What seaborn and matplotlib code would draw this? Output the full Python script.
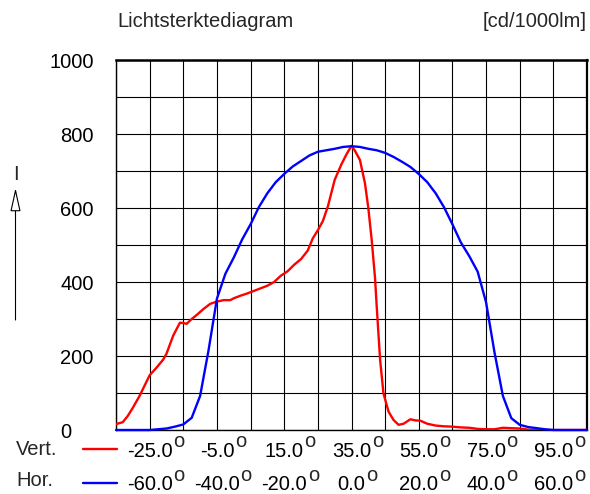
import matplotlib
matplotlib.use("Agg")
import matplotlib.pyplot as plt
import seaborn as sns
from matplotlib.lines import Line2D
from matplotlib.transforms import ScaledTranslation, IdentityTransform

# Horizontal plane (C0-C180), angle in degrees -> cd/1000lm
hor_angle = [-70, -67.5, -65, -62.5, -60, -57.5, -55, -52.5, -50, -47.5,
             -45, -42.5, -40, -37.5, -35, -32.5, -30, -27.5, -25, -22.5,
             -20, -17.5, -15, -12.5, -10, -7.5, -5, -2.5, 0, 2.5,
             5, 7.5, 10, 12.5, 15, 17.5, 20, 22.5, 25, 27.5,
             30, 32.5, 35, 37.5, 40, 42.5, 45, 47.5, 50, 52.5,
             55, 57.5, 60, 62.5, 65, 67.5, 70]
hor_value = [0, 0, 0, 0, 0, 2, 4, 9, 15, 33,
             92, 215, 355, 422, 466, 515, 556, 603, 640, 670,
             692, 712, 727, 742, 752, 756, 760, 765, 767, 765,
             760, 756, 749, 738, 725, 711, 692, 670, 640, 602,
             556, 507, 470, 428, 345, 210, 92, 32, 14, 8,
             5, 2, 0, 0, 0, 0, 0]

# Vertical plane, angle in degrees -> cd/1000lm
vert_angle = [-35, -33, -31.5, -30, -28, -25, -23, -21, -20, -18,
              -16, -15, -14, -12.5, -11, -9, -7, -5, -3, -1,
              0, 2, 4, 6, 8, 10, 12, 14, 16, 18,
              20, 22, 23.5, 25, 26.5, 28, 30, 32, 33.5, 35,
              36, 37.5, 39, 40, 41, 42, 42.5, 43.5, 44.5, 46,
              47.5, 49, 50.5, 52.5, 54, 55.5, 57.5, 60, 62.5, 65,
              67.5, 70, 72.5, 75, 77.5, 80, 82.5, 85, 87.5, 90,
              95, 100, 105]
vert_value = [16, 21, 38, 60, 92, 148, 168, 190, 206, 255,
              290, 289, 287, 300, 311, 327, 341, 347, 351, 351,
              356, 363, 369, 376, 383, 390, 400, 417, 429, 447,
              462, 485, 518, 540, 565, 605, 676, 718, 745, 768,
              755, 730, 667, 600, 514, 410, 333, 190, 99, 50,
              27, 14, 17, 29, 26, 25, 17, 12, 10, 9,
              7, 6, 3, 2, 2, 6, 5, 4, 1, 0,
              0, 0, 0]

vert_ticks = [-25, -5, 15, 35, 55, 75, 95]
hor_ticks = [-60, -40, -20, 0, 20, 40, 60]
intensity_ticks = [0, 200, 400, 600, 800, 1000]

sns.set_theme(style="white")
plt.rcParams["font.family"] = ["Liberation Sans", "DejaVu Sans"]
FS = 14.5
W, H = 590, 494

fig = plt.figure(figsize=(W / 100, H / 100), dpi=100)
fig.patch.set_facecolor("white")

# base axes: vertical-plane angle scale, carries the grid and frame
ax = fig.add_axes([116 / W, 64 / H, 471 / W, 370 / H])
ax.set_xlim(-35, 105)
ax.set_ylim(0, 1000)
ax.set_xticks(vert_ticks)
ax.set_xticks(range(-35, 106, 10), minor=True)
ax.set_yticks(intensity_ticks)
ax.set_yticks(range(0, 1001, 100), minor=True)
ax.grid(True, which="both", color="black", linewidth=0.8)
ax.set_axisbelow(True)
for side, lw in (("top", 1.8), ("right", 1.6), ("left", 1.0), ("bottom", 1.0)):
    ax.spines[side].set_visible(True)
    ax.spines[side].set_color("black")
    ax.spines[side].set_linewidth(lw)

sns.lineplot(x=vert_angle, y=vert_value, ax=ax, color="#ff0000",
             linewidth=1.7, zorder=3)

# twin axes: horizontal-plane angle scale
axb = ax.twiny()
axb.set_xlim(-70, 70)
axb.set_ylim(0, 1000)
sns.lineplot(x=hor_angle, y=hor_value, ax=axb, color="#0000ff",
             linewidth=1.7, zorder=3, clip_on=False)
axb.set_xticks(hor_ticks)
axb.xaxis.set_ticks_position("bottom")
axb.xaxis.set_label_position("bottom")
for s in axb.spines.values():
    s.set_visible(False)

for a in (ax, axb):
    a.set_xlabel("")
    a.set_ylabel("")

ax.tick_params(axis="x", which="both", length=0, pad=8.5, labelsize=FS,
               labelcolor="black")
axb.tick_params(axis="x", which="both", length=0, pad=32.5, labelsize=FS,
                labelcolor="black")
ax.tick_params(axis="y", which="both", length=0, pad=16, labelsize=FS,
               labelcolor="black")
ax.set_xticklabels([f"{v:.1f}" for v in vert_ticks])
axb.set_xticklabels([f"{v:.1f}" for v in hor_ticks])
ax.set_yticklabels([str(v) for v in intensity_ticks])

# the zero label sits further to the left
zero_lbl = ax.yaxis.get_major_ticks()[0].label1
zero_lbl.set_transform(zero_lbl.get_transform()
                       + ScaledTranslation(-22 / 100, 0, fig.dpi_scale_trans))

# header texts
fig.text(117 / W, 1 - 27 / H, "Lichtsterktediagram", fontsize=FS,
         ha="left", va="baseline")
fig.text(587 / W, 1 - 27 / H, "[cd/1000lm]", fontsize=FS,
         ha="right", va="baseline")

# intensity axis symbol with hollow arrow
fig.text(15.5 / W, 1 - 174 / H, "I", fontsize=FS, ha="center", va="center")
ax.annotate("", xy=(15.5, H - 188), xytext=(15.5, H - 320),
            xycoords="figure pixels", textcoords="figure pixels",
            annotation_clip=False,
            arrowprops=dict(arrowstyle="-|>,head_length=1.45,head_width=0.32",
                            mutation_scale=10, fc="white", ec="black",
                            lw=0.8, shrinkA=0, shrinkB=0))

# plane keys
fig.text(16 / W, 1 - 455 / H, "Vert.", fontsize=FS, ha="left", va="baseline")
fig.text(16 / W, 1 - 486 / H, "Hor.", fontsize=FS, ha="left", va="baseline")
fig.add_artist(Line2D([83 / W, 117 / W], [1 - 449 / H, 1 - 449 / H],
                      transform=fig.transFigure, color="#ff0000", lw=1.7))
fig.add_artist(Line2D([83 / W, 117 / W], [1 - 483 / H, 1 - 483 / H],
                      transform=fig.transFigure, color="#0000ff", lw=1.7))

# degree marks after each angle label
fig.canvas.draw()
renderer = fig.canvas.get_renderer()
for lbl in list(ax.get_xticklabels()) + list(axb.get_xticklabels()):
    if not lbl.get_text() or not lbl.get_visible():
        continue
    bb = lbl.get_window_extent(renderer)
    fig.text(bb.x1 + 0.8, bb.y0 + 9.5, "o", fontsize=FS, ha="left",
             va="bottom", transform=IdentityTransform())

fig.savefig("out.png", dpi=100, facecolor="white")
